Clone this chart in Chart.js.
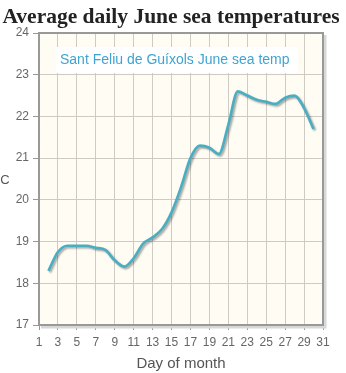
<!DOCTYPE html>
<html>
<head>
<meta charset="utf-8">
<script src="https://cdn.jsdelivr.net/npm/chart.js@4"></script>
<style>
  html, body { margin: 0; padding: 0; background: #fff; }
  canvas { display: block; }
</style>
</head>
<body>
<canvas id="chart" width="346" height="373"></canvas>
<script>
const days = [2, 3, 4, 5, 6, 7, 8, 9, 10, 11, 12, 13, 14, 15, 16, 17, 18, 19, 20, 21, 22, 23, 24, 25, 26, 27, 28, 29, 30];
const temps = [18.3, 18.75, 18.9, 18.9, 18.9, 18.85, 18.8, 18.55, 18.4, 18.6, 18.95, 19.1, 19.3, 19.7, 20.3, 21.0, 21.3, 21.25, 21.1, 21.8, 22.6, 22.5, 22.4, 22.35, 22.3, 22.45, 22.5, 22.2, 21.7];
const seriesName = 'Sant Feliu de Guíxols June sea temp';
const chartTitle = 'Average daily June sea temperatures';
const xTitle = 'Day of month';
const yTitle = '°C';

const plotDeco = {
  id: 'plotDeco',
  beforeDraw(chart) {
    const { ctx, chartArea: a } = chart;
    ctx.save();
    ctx.fillStyle = '#fffcf4';
    ctx.fillRect(a.left, a.top, a.right - a.left, a.bottom - a.top);
    ctx.restore();
  },
  beforeDatasetsDraw(chart) {
    const { ctx } = chart;
    ctx.save();
    ctx.shadowColor = 'rgba(0,0,0,0.35)';
    ctx.shadowOffsetX = 1.5;
    ctx.shadowOffsetY = 1.5;
    ctx.shadowBlur = 2;
  },
  afterDatasetsDraw(chart) {
    chart.ctx.restore();
  },
  afterDraw(chart) {
    const { ctx, chartArea: a } = chart;
    ctx.save();
    // frame with shadow on right/bottom
    ctx.strokeStyle = '#d8d8d8';
    ctx.lineWidth = 3;
    ctx.beginPath();
    ctx.moveTo(a.right + 2, a.top + 2);
    ctx.lineTo(a.right + 2, a.bottom + 2);
    ctx.lineTo(a.left + 2, a.bottom + 2);
    ctx.stroke();
    ctx.strokeStyle = '#999';
    ctx.lineWidth = 2;
    ctx.strokeRect(a.left, a.top, a.right - a.left, a.bottom - a.top);

    // legend box
    ctx.font = '14px "Liberation Sans", Arial, sans-serif';
    const w = ctx.measureText(seriesName).width;
    ctx.fillStyle = '#fff';
    ctx.fillRect(a.left + 17, a.top + 14, w + 12, 26);
    ctx.fillStyle = '#3fa3d2';
    ctx.textBaseline = 'middle';
    ctx.fillText(seriesName, a.left + 21, a.top + 27);

    // title
    ctx.font = 'bold 21.5px "Liberation Serif", Georgia, serif';
    ctx.fillStyle = '#222';
    ctx.textAlign = 'center';
    ctx.textBaseline = 'alphabetic';
    ctx.fillText(chartTitle, 171, 23);

    // y title, mostly cut off at the left edge
    ctx.font = '13px "Liberation Sans", Arial, sans-serif';
    ctx.fillStyle = '#555';
    ctx.textAlign = 'left';
    ctx.textBaseline = 'middle';
    ctx.fillText(yTitle, -5, 180);
    ctx.restore();
  }
};

new Chart(document.getElementById('chart'), {
  type: 'line',
  data: {
    datasets: [{
      label: seriesName,
      data: days.map((d, i) => ({ x: d, y: temps[i] })),
      borderColor: '#4aaec2',
      borderWidth: 2.7,
      pointRadius: 0,
      tension: 0.4,
      cubicInterpolationMode: 'monotone',
      fill: false
    }]
  },
  options: {
    responsive: false,
    animation: false,
    layout: { padding: { top: 33, right: 23, left: 0, bottom: 0 } },
    plugins: {
      legend: { display: false },
      tooltip: { enabled: false }
    },
    scales: {
      x: {
        type: 'linear',
        min: 1,
        max: 31,
        afterFit(scale) { scale.height = 48; },
        ticks: {
          stepSize: 2,
          autoSkip: false,
          color: '#666',
          padding: 5,
          font: { family: '"Liberation Sans", Arial, sans-serif', size: 12 },
          maxRotation: 0
        },
        grid: { color: '#cfcac4', lineWidth: 1, tickLength: 5, tickColor: '#999' },
        border: { display: false },
        title: {
          display: true,
          text: xTitle,
          color: '#555',
          font: { family: '"Liberation Sans", Arial, sans-serif', size: 15 },
          padding: { top: 4, bottom: 0 }
        }
      },
      y: {
        min: 17,
        max: 24,
        afterFit(scale) { scale.width = 39; },
        ticks: {
          stepSize: 1,
          autoSkip: false,
          color: '#666',
          padding: 4,
          font: { family: '"Liberation Sans", Arial, sans-serif', size: 12 }
        },
        grid: { color: '#cfcac4', lineWidth: 1, tickLength: 6, tickColor: '#999' },
        border: { display: false }
      }
    }
  },
  plugins: [plotDeco]
});
</script>
</body>
</html>
